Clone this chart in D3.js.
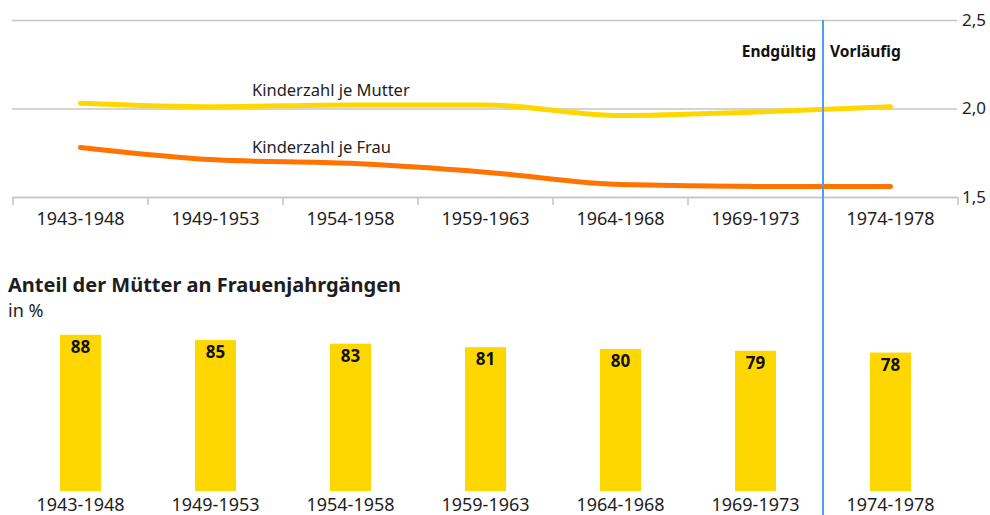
<!DOCTYPE html>
<html>
<head>
<meta charset="utf-8">
<script src="https://cdn.jsdelivr.net/npm/d3@7"></script>
<style>
  body { margin: 0; background: #fff; }
  svg { display: block; font-family: 'Noto Sans', sans-serif; }
</style>
</head>
<body>
<div class="graph-container"></div>
<script>
var svgWidth = 990;
var svgHeight = 515;

// data
var cohorts = ['1943-1948', '1949-1953', '1954-1958', '1959-1963', '1964-1968', '1969-1973', '1974-1978'];
var kinderJeMutter = [2.03, 2.01, 2.02, 2.02, 1.96, 1.98, 2.01];
var kinderJeFrau = [1.78, 1.71, 1.69, 1.64, 1.57, 1.56, 1.56];
var anteilMuetter = [88, 85, 83, 81, 80, 79, 78];
var yTicks = [1.5, 2.0, 2.5];

var gold = '#ffd700';
var orange = '#ff7300';
var textColor = '#1e1e1e';

var svg = d3.select('.graph-container').append('svg')
  .attr('width', svgWidth)
  .attr('height', svgHeight);

// shared x scale
var xScale = d3.scaleBand()
  .domain(cohorts)
  .range([13, 958])
  .padding(0);

function cx(d) { return xScale(d) + xScale.bandwidth() / 2; }

// ---- top chart: Kinderzahl ----
var yScale = d3.scaleLinear()
  .domain([1.5, 2.5])
  .range([197, 20]);

// gridlines + right axis labels
var yAxis = d3.axisRight(yScale)
  .tickValues(yTicks)
  .tickSize(945)
  .tickFormat(function(d) { return d3.format('.1f')(d).replace('.', ','); });

var yg = svg.append('g')
  .attr('transform', 'translate(12,0)')
  .call(yAxis);
yg.select('.domain').remove();
yg.selectAll('.tick line').attr('stroke', '#c6c6c6').attr('stroke-width', 1.6);
yg.selectAll('.tick text')
  .attr('x', 950)
  .attr('fill', textColor)
  .style('font-size', '17px')
  .style('font-family', "'Noto Sans', sans-serif");

// bottom axis with ticks at band edges
var xg = svg.append('g')
  .attr('transform', 'translate(0,197)')
  .call(d3.axisBottom(xScale).tickSize(0).tickPadding(15));
xg.select('.domain').attr('stroke', '#c6c6c6').attr('stroke-width', 1.6);
xg.selectAll('.tick text')
  .attr('fill', textColor)
  .style('font-size', '18px')
  .style('font-family', "'Noto Sans', sans-serif");

var edges = cohorts.map(function(c) { return xScale(c); });
edges.push(xScale.range()[1]);
svg.append('g').selectAll('line')
  .data(edges)
  .enter()
  .append('line')
  .attr('x1', function(d) { return d; })
  .attr('x2', function(d) { return d; })
  .attr('y1', 197)
  .attr('y2', 205)
  .attr('stroke', '#c6c6c6')
  .attr('stroke-width', 1.6);

var line = d3.line()
  .x(function(d, i) { return cx(cohorts[i]); })
  .y(function(d) { return yScale(d); })
  .curve(d3.curveMonotoneX);

svg.append('path')
  .datum(kinderJeMutter)
  .attr('d', line)
  .attr('fill', 'none')
  .attr('stroke', gold)
  .attr('stroke-width', 5)
  .attr('stroke-linecap', 'round');

svg.append('path')
  .datum(kinderJeFrau)
  .attr('d', line)
  .attr('fill', 'none')
  .attr('stroke', orange)
  .attr('stroke-width', 5)
  .attr('stroke-linecap', 'round');

// line labels
svg.append('text')
  .attr('x', 252)
  .attr('y', 96)
  .attr('fill', textColor)
  .style('font-size', '16.5px')
  .text('Kinderzahl je Mutter');

svg.append('text')
  .attr('x', 252)
  .attr('y', 153)
  .attr('fill', textColor)
  .style('font-size', '16.5px')
  .text('Kinderzahl je Frau');

// ---- bottom chart: Anteil der Mütter ----
svg.append('text')
  .attr('x', 8)
  .attr('y', 292)
  .attr('fill', textColor)
  .style('font-size', '20px')
  .style('font-weight', 'bold')
  .text('Anteil der Mütter an Frauenjahrgängen');

svg.append('text')
  .attr('x', 8)
  .attr('y', 317)
  .attr('fill', textColor)
  .style('font-size', '18px')
  .text('in %');

var barX = d3.scaleBand()
  .domain(cohorts)
  .range(xScale.range())
  .paddingInner(0.696)
  .paddingOuter(0.348);

var barY = d3.scaleLinear()
  .domain([0, 100])
  .range([491, 313.5]);

svg.selectAll('rect.bar')
  .data(anteilMuetter)
  .enter()
  .append('rect')
  .attr('class', 'bar')
  .attr('x', function(d, i) { return barX(cohorts[i]); })
  .attr('y', function(d) { return barY(d); })
  .attr('width', barX.bandwidth())
  .attr('height', function(d) { return barY(0) - barY(d); })
  .attr('fill', gold);

svg.selectAll('text.bar-label')
  .data(anteilMuetter)
  .enter()
  .append('text')
  .attr('class', 'bar-label')
  .attr('x', function(d, i) { return cx(cohorts[i]); })
  .attr('y', function(d) { return barY(d) + 18; })
  .attr('text-anchor', 'middle')
  .attr('fill', '#111')
  .style('font-size', '17px')
  .style('font-weight', 'bold')
  .text(function(d) { return d; });

var bxg = svg.append('g')
  .attr('transform', 'translate(0,491)')
  .call(d3.axisBottom(xScale).tickSize(0).tickPadding(7));
bxg.select('.domain').remove();
bxg.selectAll('.tick text')
  .attr('fill', textColor)
  .style('font-size', '18px')
  .style('font-family', "'Noto Sans', sans-serif");

// Endgültig / Vorläufig divider
var splitX = xScale('1974-1978');
svg.append('line')
  .attr('x1', splitX)
  .attr('x2', splitX)
  .attr('y1', 20)
  .attr('y2', svgHeight)
  .attr('stroke', '#4d9df5')
  .attr('stroke-width', 2);

svg.append('text')
  .attr('x', splitX - 7)
  .attr('y', 57)
  .attr('text-anchor', 'end')
  .attr('fill', '#111')
  .style('font-size', '15.5px')
  .style('font-weight', 'bold')
  .text('Endgültig');

svg.append('text')
  .attr('x', splitX + 7)
  .attr('y', 57)
  .attr('fill', '#111')
  .style('font-size', '15.5px')
  .style('font-weight', 'bold')
  .text('Vorläufig');
</script>
</body>
</html>
